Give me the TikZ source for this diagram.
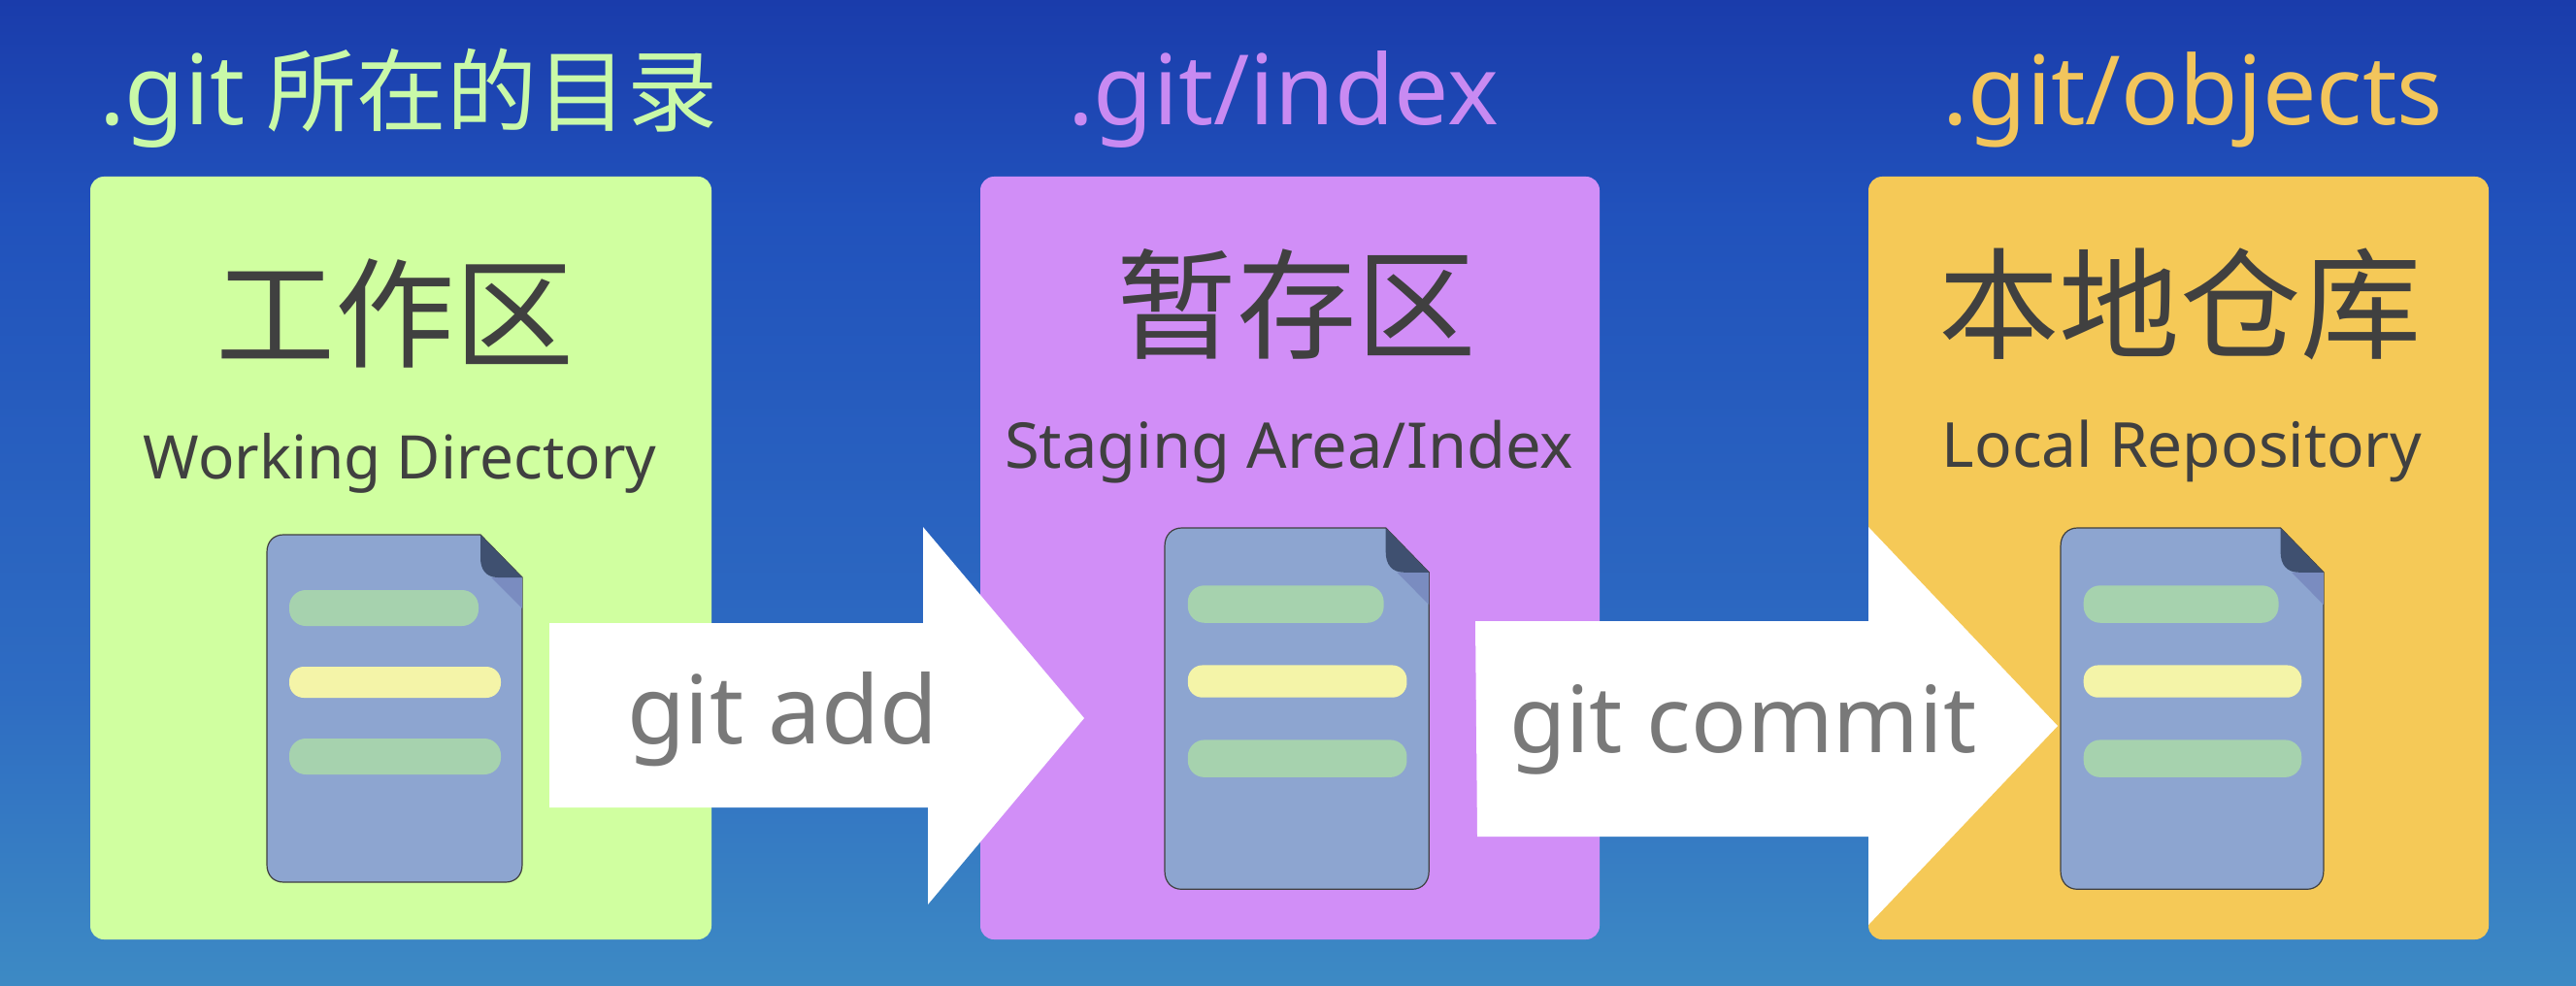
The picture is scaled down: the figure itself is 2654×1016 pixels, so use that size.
\documentclass[tikz,border=0pt]{standalone}
\usepackage{fontspec}
\setmainfont{Noto Sans}
\newfontfamily\cjkfont{Noto Sans CJK SC}
\definecolor{bgA}{HTML}{1A3CAB}
\definecolor{bgB}{HTML}{2152BC}
\definecolor{bgC}{HTML}{2E6CC2}
\definecolor{bgD}{HTML}{3D8AC4}
\definecolor{panelG}{HTML}{D0FFA0}
\definecolor{panelP}{HTML}{D18EF7}
\definecolor{panelY}{HTML}{F5C957}
\definecolor{titleG}{HTML}{C9F9A8}
\definecolor{titleP}{HTML}{C88AF2}
\definecolor{titleY}{HTML}{F2C55C}
\definecolor{ink}{HTML}{404040}
\definecolor{docblue}{HTML}{8DA5D0}
\definecolor{docdark}{HTML}{3F5070}
\definecolor{docshade}{HTML}{7A8CC0}
\definecolor{barG}{HTML}{A6D2AE}
\definecolor{barY}{HTML}{F4F4A8}
\pgfdeclareverticalshading{bgshade}{100bp}{color(0bp)=(bgD);color(25bp)=(bgD);color(40bp)=(bgC);color(64bp)=(bgB);color(75bp)=(bgA);color(100bp)=(bgA)}
\newcommand{\px}[1]{\fontsize{#1}{#1}\selectfont}
\tikzset{
  panel/.style={rounded corners=14pt,draw=none},
  flowarrow/.style={fill=white,draw=none},
  txt/.style={inner sep=0pt,outer sep=0pt},
  cmdlabel/.style={txt,text=gray!95!black},
}
\newcommand{\docicon}[4]{%
\begin{scope}[xshift=#1pt,yshift=-#2pt,x=#3pt,y=-#4pt]
  \draw[fill=docblue,draw=ink,line width=1.2pt]
    (17,0) -- (220,0) -- (263,44) -- (263,340) .. controls (263,351) and (256,358) .. (246,358)
    -- (17,358) .. controls (7,358) and (0,351) .. (0,340) -- (0,18) .. controls (0,7) and (7,0) .. (17,0) -- cycle;
  \fill[docshade] (231,44) -- (263,44) -- (263,76) -- cycle;
  \fill[docdark] (220,0) -- (263,44) -- (238,44) .. controls (226,44) and (220,36) .. (220,24) -- cycle;
  \fill[barG,rounded corners=17pt] (23,57) rectangle (218,94);
  \fill[barY,rounded corners=15pt] (23,136) rectangle (241,168);
  \fill[barG,rounded corners=17pt] (23,210) rectangle (241,247);
\end{scope}}
\begin{document}
\begin{tikzpicture}[x=1pt,y=-1pt]
\useasboundingbox (0,0) rectangle (2654,1016);
\shade[shading=bgshade] (0,0) rectangle (2654,1016);
% panels
\fill[panelG,panel] (93,182) rectangle (733,968);
\fill[panelP,panel] (1010,182) rectangle (1648,968);
\fill[panelY,panel] (1925,182) rectangle (2564,968);
% titles
\node[txt,anchor=base west,text=titleG] (t1) at (102,129) {\px{100}.git\hspace{0.22em}{\cjkfont\px{93}所在的目录}};
\node[txt,anchor=base west,text=titleP] (t2) at (1100,129) {\px{100}.git/index};
\node[txt,anchor=base west,text=titleY] (t3) at (2001,129) {\px{98.5}.git/objects};
% headings
\node[txt,text=ink] (h1) at (407,323) {\cjkfont\px{123}工作区};
\node[txt,text=ink] (h2) at (1336,313) {\cjkfont\px{123.5}暂存区};
\node[txt,text=ink] (h3) at (2246,313) {\cjkfont\px{124.5}本地仓库};
\node[txt,anchor=base,text=ink] (s1) at (412,493) {\px{62}Working Directory};
\node[txt,anchor=base,text=ink] (s2) at (1328,482) {\px{65}Staging Area/Index};
\node[txt,anchor=base,text=ink] (s3) at (2248,481) {\px{64}Local Repository};
% documents
\docicon{275}{551}{1}{1}
\docicon{1200}{544}{1.035}{1.04}
\docicon{2123}{544}{1.03}{1.04}
% arrows
\fill[flowarrow] (566,642) -- (951,642) -- (951,543) -- (1117,740) -- (956,932) -- (956,832) -- (566,832) -- cycle;
\fill[flowarrow] (1520,640) -- (1925,640) -- (1925,543) -- (2120,748) -- (1925,953) -- (1925,862) -- (1522,862) -- cycle;
\node[cmdlabel,anchor=base west] (c1) at (646,766) {\px{97.5}git add};
\node[cmdlabel,anchor=base west] (c2) at (1555,775) {\px{95}git commit};
\end{tikzpicture}
\end{document}
